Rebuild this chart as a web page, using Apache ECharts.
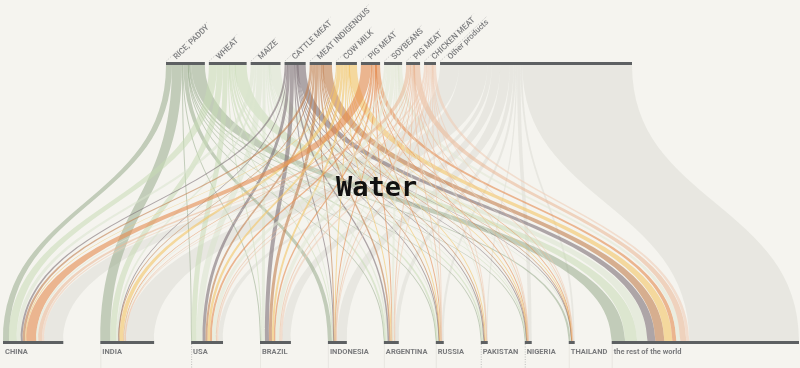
<!DOCTYPE html>
<html><head><meta charset="utf-8">
<script src="https://cdn.jsdelivr.net/npm/echarts@6/dist/echarts.min.js"></script>
<style>html,body{margin:0;padding:0;background:#f5f4ef}#c{width:800px;height:368px}</style>
</head><body><div id="c"></div>
<script>
// Top layer: products ; bottom layer: countries
const products = ['RICE, PADDY','WHEAT','MAIZE','CATTLE MEAT','MEAT INDIGENOUS','COW MILK','PIG MEAT','SOYBEANS','PIG MEAT','CHICKEN MEAT','Other products'];
const countries = ['CHINA','INDIA','USA','BRAZIL','INDONESIA','ARGENTINA','RUSSIA','PAKISTAN','NIGERIA','THAILAND','the rest of the world'];

// flows per product, in the order of `countries`
const riceFlows      = [6, 10, 0.5, 1, 4, 0.3, 0.2, 1, 0.5, 2, 13.5];
const wheatFlows     = [8, 6, 5, 1, 0.3, 2, 2, 1.5, 0.1, 0, 12];
const maizeFlows     = [4, 2, 6, 3, 1, 1.5, 0.5, 0.3, 0.8, 0.5, 10.4];
const cattleFlows    = [2, 0.5, 3, 4, 0.5, 1.5, 0.5, 0.5, 0.5, 0.2, 8];
const meatIndFlows   = [2.5, 1, 2, 3, 1, 1.5, 0.5, 1, 0.5, 0.3, 9];
const cowMilkFlows   = [1, 4, 2.5, 2, 0.3, 1, 1, 1, 0.2, 0.1, 8];
const pigMeatFlows   = [10, 0.3, 2, 1.5, 0.3, 0.3, 0.3, 0, 0.2, 0.3, 4];
const soybeanFlows   = [2, 1, 4, 4, 0.5, 2, 0.2, 0.1, 0.2, 0.1, 4];
const pigMeat2Flows  = [4, 0.2, 1, 1, 0.5, 0.5, 0.3, 0.1, 0.2, 0.2, 6];
const chickenFlows   = [2, 0.5, 1.6, 2, 1, 0.5, 0.3, 0.3, 0.3, 0.5, 3];
const otherFlows     = [19, 28.5, 4.4, 8.5, 9.6, 3.9, 2.2, 1.2, 3.5, 1.8, 110];

const flowTable = [riceFlows, wheatFlows, maizeFlows, cattleFlows, meatIndFlows, cowMilkFlows,
  pigMeatFlows, soybeanFlows, pigMeat2Flows, chickenFlows, otherFlows];

const productColors = ['#98ab8d','#c6dbb4','#d9e3cd','#7d7076','#c27e4f','#f3c466','#e58a4f','#e3e8d6','#eab693','#efcbb2','#dcdcd6'];
const productOpacity = [0.55,0.55,0.55,0.6,0.6,0.6,0.6,0.6,0.55,0.55,0.55];

// layout constants
const W = 800, H = 368;
const LEFT = 3, RIGHT = 1, TOP = 62, BOTTOM = 24;
const NODE_GAP = 37, NODE_W = 3;
const TOP_START = 166, TOP_GAP = 4;
const LABEL_ROT = 44;
const seriesW = W - LEFT - RIGHT;
const bottomY = H - BOTTOM;

const totals = flowTable.map(r => r.reduce((a, b) => a + b, 0));
const countryTotals = countries.map((c, j) => flowTable.reduce((a, r) => a + r[j], 0));
const grand = totals.reduce((a, b) => a + b, 0);
const ky = (seriesW - (countries.length - 1) * NODE_GAP) / grand;

const nodeColor = '#5d6062';
const labelColor = '#7a7b7d';
const labelFont = 'Roboto';
const measure = document.createElement('canvas').getContext('2d');
measure.font = '500 8px Roboto';

const nodes = [];
const graphics = [];
let cum = 0;
const a = LABEL_ROT * Math.PI / 180;
products.forEach((p, i) => {
  const x = TOP_START - LEFT + cum * ky + i * TOP_GAP;
  cum += totals[i];
  const along = 8;
  nodes.push({
    name: 'p' + i,
    localX: x / seriesW,
    itemStyle: { color: nodeColor },
    label: {
      show: true, formatter: p,
      position: [along * Math.cos(a) + 0.5, -1 - along * Math.sin(a)], rotate: LABEL_ROT,
      align: 'left', verticalAlign: 'top',
      fontSize: 8, color: labelColor, fontFamily: labelFont, fontWeight: 500
    }
  });
  // dotted leader line next to each product label
  const len = measure.measureText(p).width + along + 3;
  const x0 = LEFT + x + 0.5, y0 = TOP - 1;
  graphics.push({
    type: 'line', silent: true,
    shape: { x1: x0, y1: y0, x2: x0 + len * Math.cos(a), y2: y0 - len * Math.sin(a) },
    style: { stroke: '#a8a8a8', lineWidth: 0.7, lineDash: [1, 1.5] }
  });
});
let cumC = 0;
const dottedCountries = ['USA', 'PAKISTAN', 'NIGERIA'];
countries.forEach((c, j) => {
  const x = LEFT + cumC * ky + j * NODE_GAP;
  cumC += countryTotals[j];
  nodes.push({
    name: 'c' + j,
    itemStyle: { color: nodeColor },
    label: {
      show: true, formatter: c, position: [2, 7],
      align: 'left', verticalAlign: 'top',
      fontSize: 7.5, color: labelColor, fontFamily: labelFont, fontWeight: 'bold'
    }
  });
  if (j > 0) {
    const dotted = dottedCountries.indexOf(c) >= 0;
    graphics.push({
      type: 'line', silent: true,
      shape: { x1: x + 0.5, y1: bottomY, x2: x + 0.5, y2: H },
      style: dotted ? { stroke: '#a8a8a8', lineWidth: 0.7, lineDash: [1, 1.5] }
                    : { stroke: '#e4e3dd', lineWidth: 0.8 }
    });
  }
});

const links = [];
const drawOrder = [10, 0, 1, 2, 3, 4, 5, 6, 7, 8, 9];
drawOrder.forEach(i => {
  flowTable[i].forEach((v, j) => {
    if (v > 0) links.push({
      source: 'p' + i, target: 'c' + j, value: v,
      lineStyle: { color: productColors[i], opacity: productOpacity[i] }
    });
  });
});

const chart = echarts.init(document.getElementById('c'), null, { renderer: 'canvas' });
chart.setOption({
  backgroundColor: '#f5f4ef',
  animation: false,
  title: {
    text: 'Water', left: 331, top: 170,
    textStyle: { fontFamily: 'DejaVu Sans Mono', fontWeight: 'bold', fontSize: 27, color: '#111' }
  },
  graphic: graphics,
  series: [{
    type: 'sankey', orient: 'vertical',
    left: LEFT, right: RIGHT, top: TOP, bottom: BOTTOM,
    nodeWidth: NODE_W, nodeGap: NODE_GAP, layoutIterations: 0,
    draggable: false,
    emphasis: { disabled: true },
    lineStyle: { curveness: 0.5 },
    data: nodes, links: links
  }]
});
</script></body></html>
